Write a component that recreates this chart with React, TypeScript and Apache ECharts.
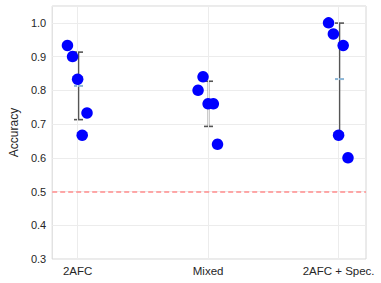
import React, { useEffect, useRef } from "react";
import * as echarts from "echarts";

const categories = ["2AFC", "Mixed", "2AFC + Spec."];
const values2AFC = [0.933, 0.9, 0.833, 0.733, 0.667];
const valuesMixed = [0.84, 0.8, 0.76, 0.76, 0.64];
const valuesSpec = [1.0, 0.967, 0.933, 0.667, 0.6];
const jitter2AFC = [-0.078, -0.039, 0, 0.072, 0.035];
const jitterMixed = [-0.039, -0.077, 0, 0.04, 0.072];
const jitterSpec = [-0.077, -0.04, 0.035, 0, 0.072];
const chanceLevel = 0.5;
const yTicks = [0.3, 0.4, 0.5, 0.6, 0.7, 0.8, 0.9, 1.0];

const groups = [
  { values: values2AFC, jitter: jitter2AFC },
  { values: valuesMixed, jitter: jitterMixed },
  { values: valuesSpec, jitter: jitterSpec },
];

const FONT = "'Liberation Sans', Arial, sans-serif";

export default function App() {
  const ref = useRef<HTMLDivElement>(null);
  useEffect(() => {
    document.body.style.margin = "0";
    if (!ref.current) return;
    const chart = echarts.init(ref.current, undefined, { renderer: "svg" });

    const points: number[][] = [];
    const stats: number[][] = [];
    groups.forEach((g, i) => {
      g.values.forEach((v, j) => points.push([i + g.jitter[j], v]));
      const mean = g.values.reduce((a, b) => a + b, 0) / g.values.length;
      const sd = Math.sqrt(
        g.values.reduce((a, b) => a + (b - mean) * (b - mean), 0) / g.values.length
      );
      stats.push([i, mean, sd]);
    });

    chart.setOption({
      animation: false,
      grid: {
        left: 41,
        right: 15,
        top: 6,
        bottom: 24,
        show: true,
        borderColor: "#d6d6d6",
        borderWidth: 1,
      },
      xAxis: {
        type: "value",
        min: -0.195,
        max: 2.21,
        axisLine: { show: false },
        axisTick: { show: false },
        splitLine: { show: false },
        axisLabel: {
          customValues: [0, 1, 2],
          formatter: (v: number) => categories[Math.round(v)] ?? "",
          color: "#262626",
          fontSize: 11.5,
          fontFamily: FONT,
          margin: 6,
        },
      },
      yAxis: {
        type: "value",
        min: 0.3,
        max: 1.05,
        interval: 0.1,
        name: "Accuracy",
        nameLocation: "middle",
        nameGap: 30,
        nameTextStyle: { color: "#262626", fontSize: 12, fontFamily: FONT },
        axisLine: { show: false },
        axisTick: { show: false },
        axisLabel: {
          customValues: yTicks,
          formatter: (v: number) => v.toFixed(1),
          color: "#262626",
          fontSize: 11,
          fontFamily: FONT,
          margin: 6,
        },
        splitLine: { show: true, lineStyle: { color: "#ececec", width: 1 } },
      },
      series: [
        {
          type: "line",
          data: [],
          silent: true,
          markLine: {
            silent: true,
            symbol: "none",
            label: { show: false },
            lineStyle: { color: "#ececec", width: 1, type: "solid" },
            data: [{ xAxis: 0 }, { xAxis: 1 }, { xAxis: 2 }],
          },
        },
        {
          type: "line",
          data: [],
          silent: true,
          z: 3,
          markLine: {
            silent: true,
            symbol: "none",
            label: { show: false },
            lineStyle: { color: "#ff8c8c", width: 1.5, type: [5, 3] },
            data: [{ yAxis: chanceLevel }],
          },
        },
        {
          type: "custom",
          z: 4,
          data: stats,
          renderItem: (params: any, api: any) => {
            const x = api.value(0);
            const m = api.value(1);
            const s = api.value(2);
            const top = api.coord([x, m + s]);
            const bot = api.coord([x, m - s]);
            const mid = api.coord([x, m]);
            const cx = Math.round(top[0]) + 0.5;
            const cap = 4.5;
            const ls = { stroke: "#555555", lineWidth: 1.6 };
            return {
              type: "group",
              children: [
                { type: "line", shape: { x1: cx, y1: top[1], x2: cx, y2: bot[1] }, style: ls },
                { type: "line", shape: { x1: cx - cap, y1: top[1], x2: cx + cap, y2: top[1] }, style: ls },
                { type: "line", shape: { x1: cx - cap, y1: bot[1], x2: cx + cap, y2: bot[1] }, style: ls },
                {
                  type: "line",
                  shape: { x1: cx - 4.5, y1: mid[1], x2: cx + 4.5, y2: mid[1] },
                  style: { stroke: "#8cb6d6", lineWidth: 2 },
                },
              ],
            };
          },
        },
        {
          type: "scatter",
          z: 5,
          data: points,
          symbolSize: 11.5,
          itemStyle: { color: "#0000ff", opacity: 1 },
        },
      ],
    });
    return () => chart.dispose();
  }, []);
  return <div ref={ref} style={{ width: 381, height: 283 }} />;
}
